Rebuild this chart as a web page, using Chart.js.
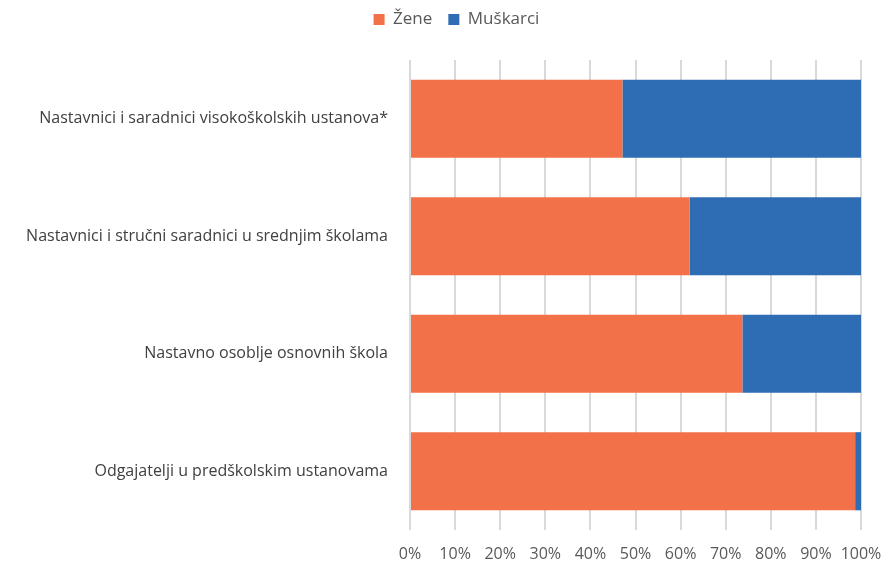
<!DOCTYPE html>
<html>
<head>
<meta charset="utf-8">
<script src="https://cdn.jsdelivr.net/npm/chart.js@4/dist/chart.umd.min.js"></script>
<style>
  html, body { margin: 0; padding: 0; background: #fff; }
  #wrap { width: 885px; height: 563px; }
</style>
</head>
<body>
<div id="wrap"><canvas id="myChart"></canvas></div>
<script>
// Categories (top to bottom) and shares in percent
const categories = [
    "Nastavnici i saradnici visokoškolskih ustanova*",
    "Nastavnici i stručni saradnici u srednjim školama",
    "Nastavno osoblje osnovnih škola",
    "Odgajatelji u predškolskim ustanovama"
];
const zene = [47.1, 62.0, 73.7, 98.7];
const muskarci = [52.9, 38.0, 26.3, 1.3];
const seriesNames = ["Žene", "Muškarci"];

const textFont = { family: "'Open Sans', 'Noto Sans', sans-serif", size: 16 };

// Extra room under the legend, and nudge it a bit right/up like the original
const legendTweak = {
    id: "legendTweak",
    afterInit(chart) {
        const legend = chart.legend;
        const fit = legend.fit;
        legend.fit = function () {
            fit.call(this);
            this.height += 17;
        };
        const draw = legend.draw;
        legend.draw = function () {
            const ctx = this.ctx;
            ctx.save();
            ctx.translate(26, -5);
            draw.call(this);
            ctx.restore();
        };
    }
};

new Chart(document.getElementById("myChart"), {
    type: "bar",
    data: {
        labels: categories,
        datasets: [
            { label: seriesNames[0], data: zene, backgroundColor: "#F37148" },
            { label: seriesNames[1], data: muskarci, backgroundColor: "#2E6DB4" }
        ]
    },
    plugins: [legendTweak],
    options: {
        indexAxis: "y",
        responsive: true,
        maintainAspectRatio: false,
        animation: false,
        datasets: { bar: { categoryPercentage: 1, barPercentage: 0.665 } },
        layout: { padding: { left: 0, right: 24, top: 0, bottom: 0 } },
        plugins: {
            legend: {
                position: "top",
                labels: {
                    boxWidth: 11,
                    boxHeight: 11,
                    padding: 16,
                    color: "#595959",
                    font: { family: textFont.family, size: 17 }
                }
            },
            tooltip: { enabled: false }
        },
        scales: {
            x: {
                stacked: true,
                min: 0,
                max: 100,
                ticks: {
                    stepSize: 10,
                    callback: (v) => v + "%",
                    color: "#595959",
                    font: textFont,
                    padding: 15,
                    maxRotation: 0,
                    minRotation: 0,
                    autoSkip: false
                },
                grid: { color: "#d9d9d9", lineWidth: 2, drawTicks: false },
                border: { display: false },
                afterFit: (scale) => {
                    scale.height = 33;
                    scale.paddingLeft = 0;
                    scale.paddingRight = 0;
                }
            },
            y: {
                stacked: true,
                ticks: { color: "#404040", font: textFont, padding: 14 },
                grid: { display: false },
                border: { display: false },
                afterFit: (scale) => { scale.width = 410; }
            }
        }
    }
});
</script>
</body>
</html>
